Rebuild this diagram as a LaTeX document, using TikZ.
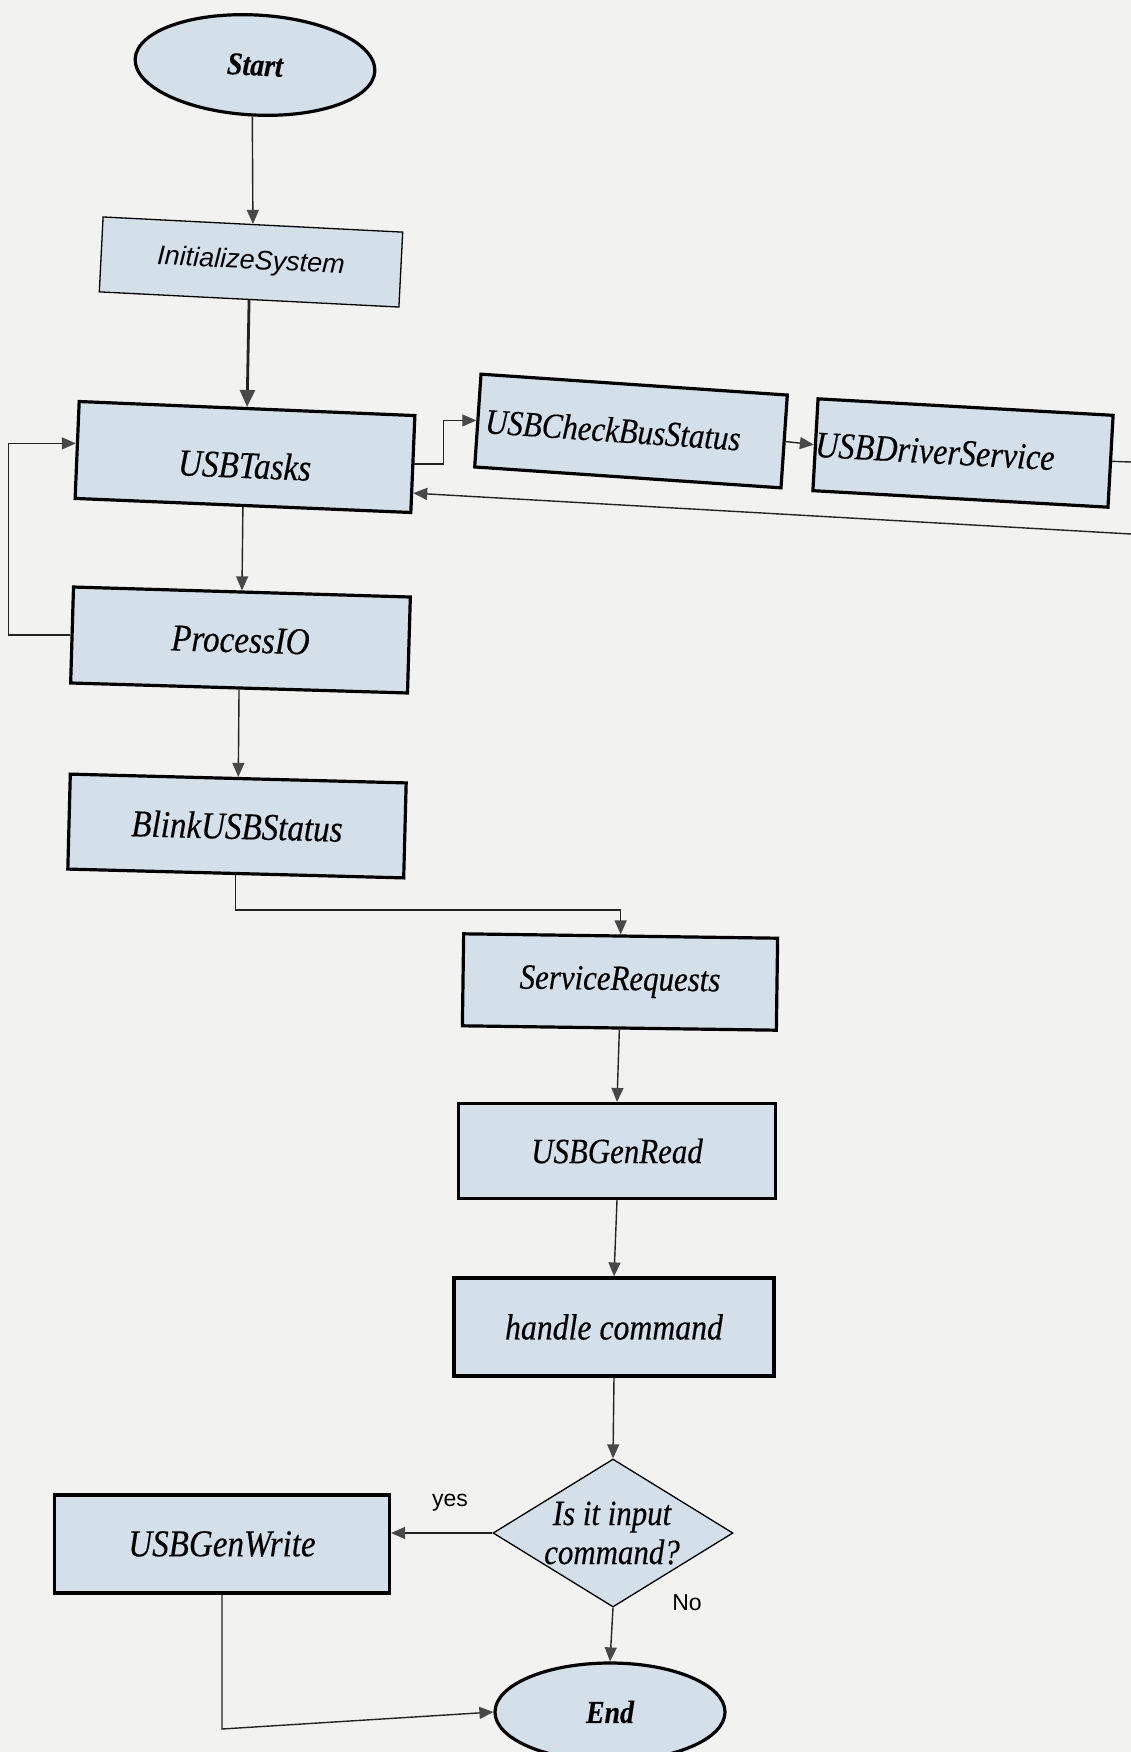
\documentclass[tikz,border=0pt]{standalone}
\usepackage{fontspec}
\setmainfont{Liberation Serif}
\newfontfamily\sansfont{Liberation Sans}
\newfontfamily\labelfont[FakeStretch=0.87,FakeBold=0.3]{Liberation Serif}
\usetikzlibrary{shapes.geometric,arrows.meta,calc}

\definecolor{boxfill}{RGB}{211,223,233}
\definecolor{paper}{RGB}{242,242,240}
\definecolor{wire}{RGB}{35,35,35}
\definecolor{tipgray}{RGB}{72,72,72}

\begin{document}
\begin{tikzpicture}[x=1pt,y=-1pt,
  fs/.style={font=\labelfont\itshape\fontsize{#1}{#1}\selectfont},
  stepbox/.style={draw=black, line width=3.2pt, fill=boxfill, inner sep=0pt, fs=36},
  thinbox/.style={draw=black, line width=1.3pt, fill=boxfill, inner sep=0pt,
    font=\sansfont\itshape\fontsize{27}{32}\selectfont},
  terminal/.style={ellipse, draw=black, line width=3.2pt, fill=boxfill, inner sep=0pt,
    font=\labelfont\bfseries\itshape\fontsize{32}{36}\selectfont},
  decision/.style={diamond, draw=black, line width=1.3pt, fill=boxfill, inner sep=0pt},
  dectext/.style={align=center, font=\labelfont\itshape\fontsize{35.5}{39}\selectfont},
  flow/.style={draw=wire, line width=1.4pt, -{Triangle[length=14pt,width=12pt,color=tipgray]}},
  bigflow/.style={draw=wire, line width=2.8pt, -{Triangle[length=17pt,width=15pt,color=tipgray]}},
  plain/.style={draw=wire, line width=1.4pt},
  branch/.style={font=\sansfont\fontsize{23}{26}\selectfont}
]
% page
\fill[paper] (0,0) rectangle (1131,1752);
\useasboundingbox (0,0) rectangle (1131,1752);

% nodes
\node[terminal, minimum width=240pt, minimum height=100pt, rotate=-3] (start) at (255,65) {Start};
\node[thinbox, minimum width=300pt, minimum height=75pt, rotate=-2.9] (init) at (251,262) {InitializeSystem};
\node[stepbox, fs=38, minimum width=336pt, minimum height=97pt, rotate=-2.4] (tasks) at (245,457) {\raisebox{-21pt}[0pt][0pt]{USBTasks}};
\node[stepbox, fs=35.5, minimum width=307pt, minimum height=93pt, rotate=-3.9] (chk) at (631,431) {USBCheckBusStatus\hspace*{36pt}};
\node[stepbox, fs=37, minimum width=293pt, minimum height=92pt, rotate=-3.2] (drv) at (963,453) {USBDriverService\hspace*{56pt}};
\node[stepbox, fs=38, minimum width=337pt, minimum height=96pt, rotate=-1.7] (pio) at (240.5,640) {ProcessIO};
\node[stepbox, fs=38, minimum width=336pt, minimum height=95pt, rotate=-1.5] (blink) at (237,826) {BlinkUSBStatus};
\node[stepbox, fs=35.5, minimum width=314pt, minimum height=92pt, rotate=-0.8] (srv) at (620,982) {ServiceRequests};
\node[stepbox, fs=35.5, minimum width=317pt, minimum height=95pt] (rd) at (617,1151) {USBGenRead};
\node[stepbox, fs=36.5, minimum width=320pt, minimum height=98pt] (hc) at (614,1327) {handle command};
\node[decision, minimum width=240pt, minimum height=148pt] (dec) at (613,1533) {};
\node[dectext] (dectxt) at (612,1533) {Is it input\\command?};
\node[stepbox, fs=38, minimum width=335pt, minimum height=98pt] (wr) at (222,1544) {USBGenWrite};
\node[terminal, minimum width=230pt, minimum height=98pt] (end) at (610,1712) {End};

\node[branch] (yes) at (450,1503) {yes};
\node[branch] (no) at (687,1603) {No};

% connectors
\draw[flow] (start.south) -- (init.north);
\draw[bigflow] (init.south) -- (tasks.north);
\draw[flow] (tasks.east) -- ++(29,0) |- (chk.west);
\draw[flow] (chk.east) -- (drv.west);
\coordinate (offout) at (1131,462);
\coordinate (offin) at (1131,534);
\draw[plain] (drv.east) -- (offout);
\draw[flow] (offin) -- ($(tasks.east)!0.58!(tasks.south east)$);
\draw[flow] (tasks.south) -- (pio.north);
\draw[flow] (pio.west) -- ++(-62,0) |- ($(tasks.west)!0.13!(tasks.north west)$);
\draw[flow] (pio.south) -- (blink.north);
\draw[flow] (blink.south) -- ++(0,35) -| (srv.north);
\draw[flow] (srv.south) -- (rd.north);
\draw[flow] (rd.south) -- (hc.north);
\draw[flow] (hc.south) -- (dec.north);
\draw[flow] (dec.west) -- (dec.west -| wr.east);
\draw[flow] (dec.south) -- (end.north);
\coordinate (wrturn) at (222,1729);
\draw[flow] (wr.south) -- (wrturn) -- (end.west);
\end{tikzpicture}
\end{document}
